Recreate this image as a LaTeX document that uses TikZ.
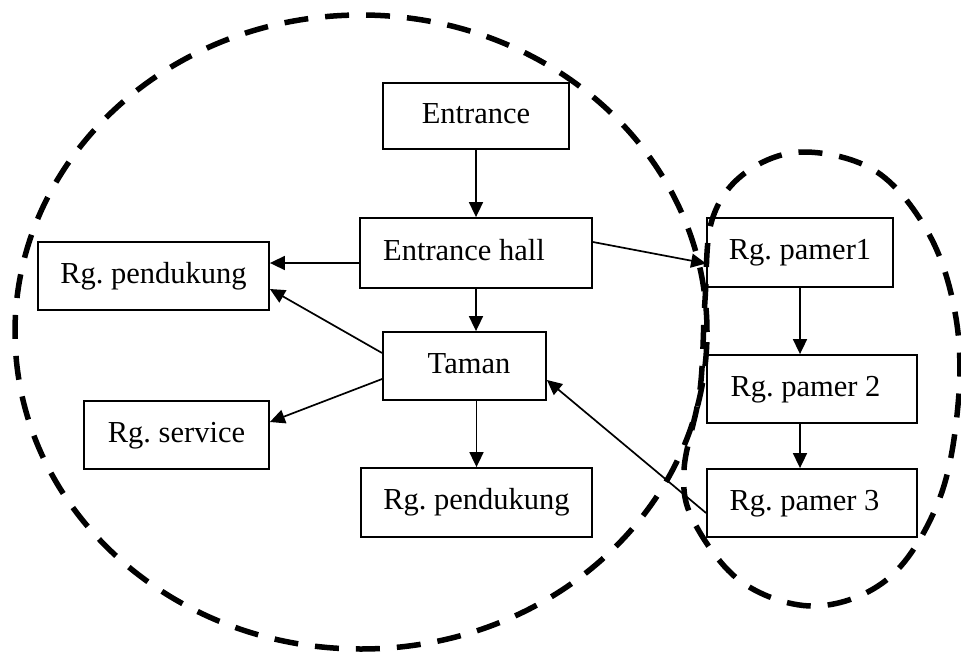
\documentclass[tikz,border=0pt]{standalone}
\usepackage{fontspec}
\setmainfont{Liberation Serif}
\usetikzlibrary{arrows.meta}
\frenchspacing

\begin{document}
\begin{tikzpicture}[x=1pt, y=1pt,
  room/.style={draw, line width=1.8pt, inner sep=0pt,
    font=\fontsize{30.5}{36}\selectfont, text height=21pt, text depth=7pt},
  arr/.style={line width=1.7pt, -{Triangle[length=15pt, width=14pt]}},
  zone/.style={line width=5.5pt, dash pattern=on 24pt off 17pt}]
\useasboundingbox (0,0) rectangle (961,-653);

% rooms
\node[room, minimum width=186pt, minimum height=66pt] (ent)   at (476,-116)   {Entrance};
\node[room, minimum width=232pt, minimum height=70pt] (eh)    at (476,-253)   {Entrance hall\hspace*{24pt}};
\node[room, minimum width=231pt, minimum height=68pt] (pendL) at (153.5,-276) {Rg. pendukung};
\node[room, minimum width=163pt, minimum height=68pt] (taman) at (464.5,-366) {\hspace*{9pt}Taman};
\node[room, minimum width=185pt, minimum height=68pt] (serv)  at (176.5,-435) {Rg. service};
\node[room, minimum width=231pt, minimum height=69pt] (pendB) at (476.5,-502.5) {Rg. pendukung};
\node[room, minimum width=186pt, minimum height=69pt] (p1)    at (800,-252.5) {Rg. pamer1};
\node[room, minimum width=210pt, minimum height=68pt] (p2)    at (812,-389)   {Rg. pamer 2\hspace*{13pt}};
\node[room, minimum width=210pt, minimum height=68pt] (p3)    at (812,-503)   {Rg. pamer 3\hspace*{15pt}};

% circulation
\draw[arr] (ent.south) -- (eh.north);
\draw[arr] ([yshift=-10pt]eh.west) -- ([yshift=13pt]pendL.east);
\draw[arr] (eh.south) -- (eh.south |- taman.north);
\draw[arr] ([yshift=11pt]eh.east) -- ([yshift=-11pt]p1.west);
\draw[arr] ([yshift=13pt]taman.west) -- ([yshift=-13pt]pendL.east);
\draw[arr] ([yshift=-13pt]taman.west) -- ([yshift=13pt]serv.east);
\draw[arr] (pendB.north |- taman.south) -- (pendB.north);
\draw[arr] (p1.south) -- (p1.south |- p2.north);
\draw[arr] (p1.south |- p2.south) -- (p1.south |- p3.north);
\draw[arr] ([yshift=-10pt]p3.west) -- ([yshift=-14pt]taman.east);

% zones
\draw[zone] (361,-332) ellipse [x radius=346pt, y radius=317pt];
\draw[zone] plot[smooth cycle, tension=0.6] coordinates {
  (803,-152) (877,-172) (930,-236) (956,-318) (958,-405) (939,-500)
  (890,-577) (817,-606) (743,-583) (694,-522) (684,-470) (700,-390)
  (705,-300) (712,-220) (745,-173)};
\end{tikzpicture}
\end{document}
